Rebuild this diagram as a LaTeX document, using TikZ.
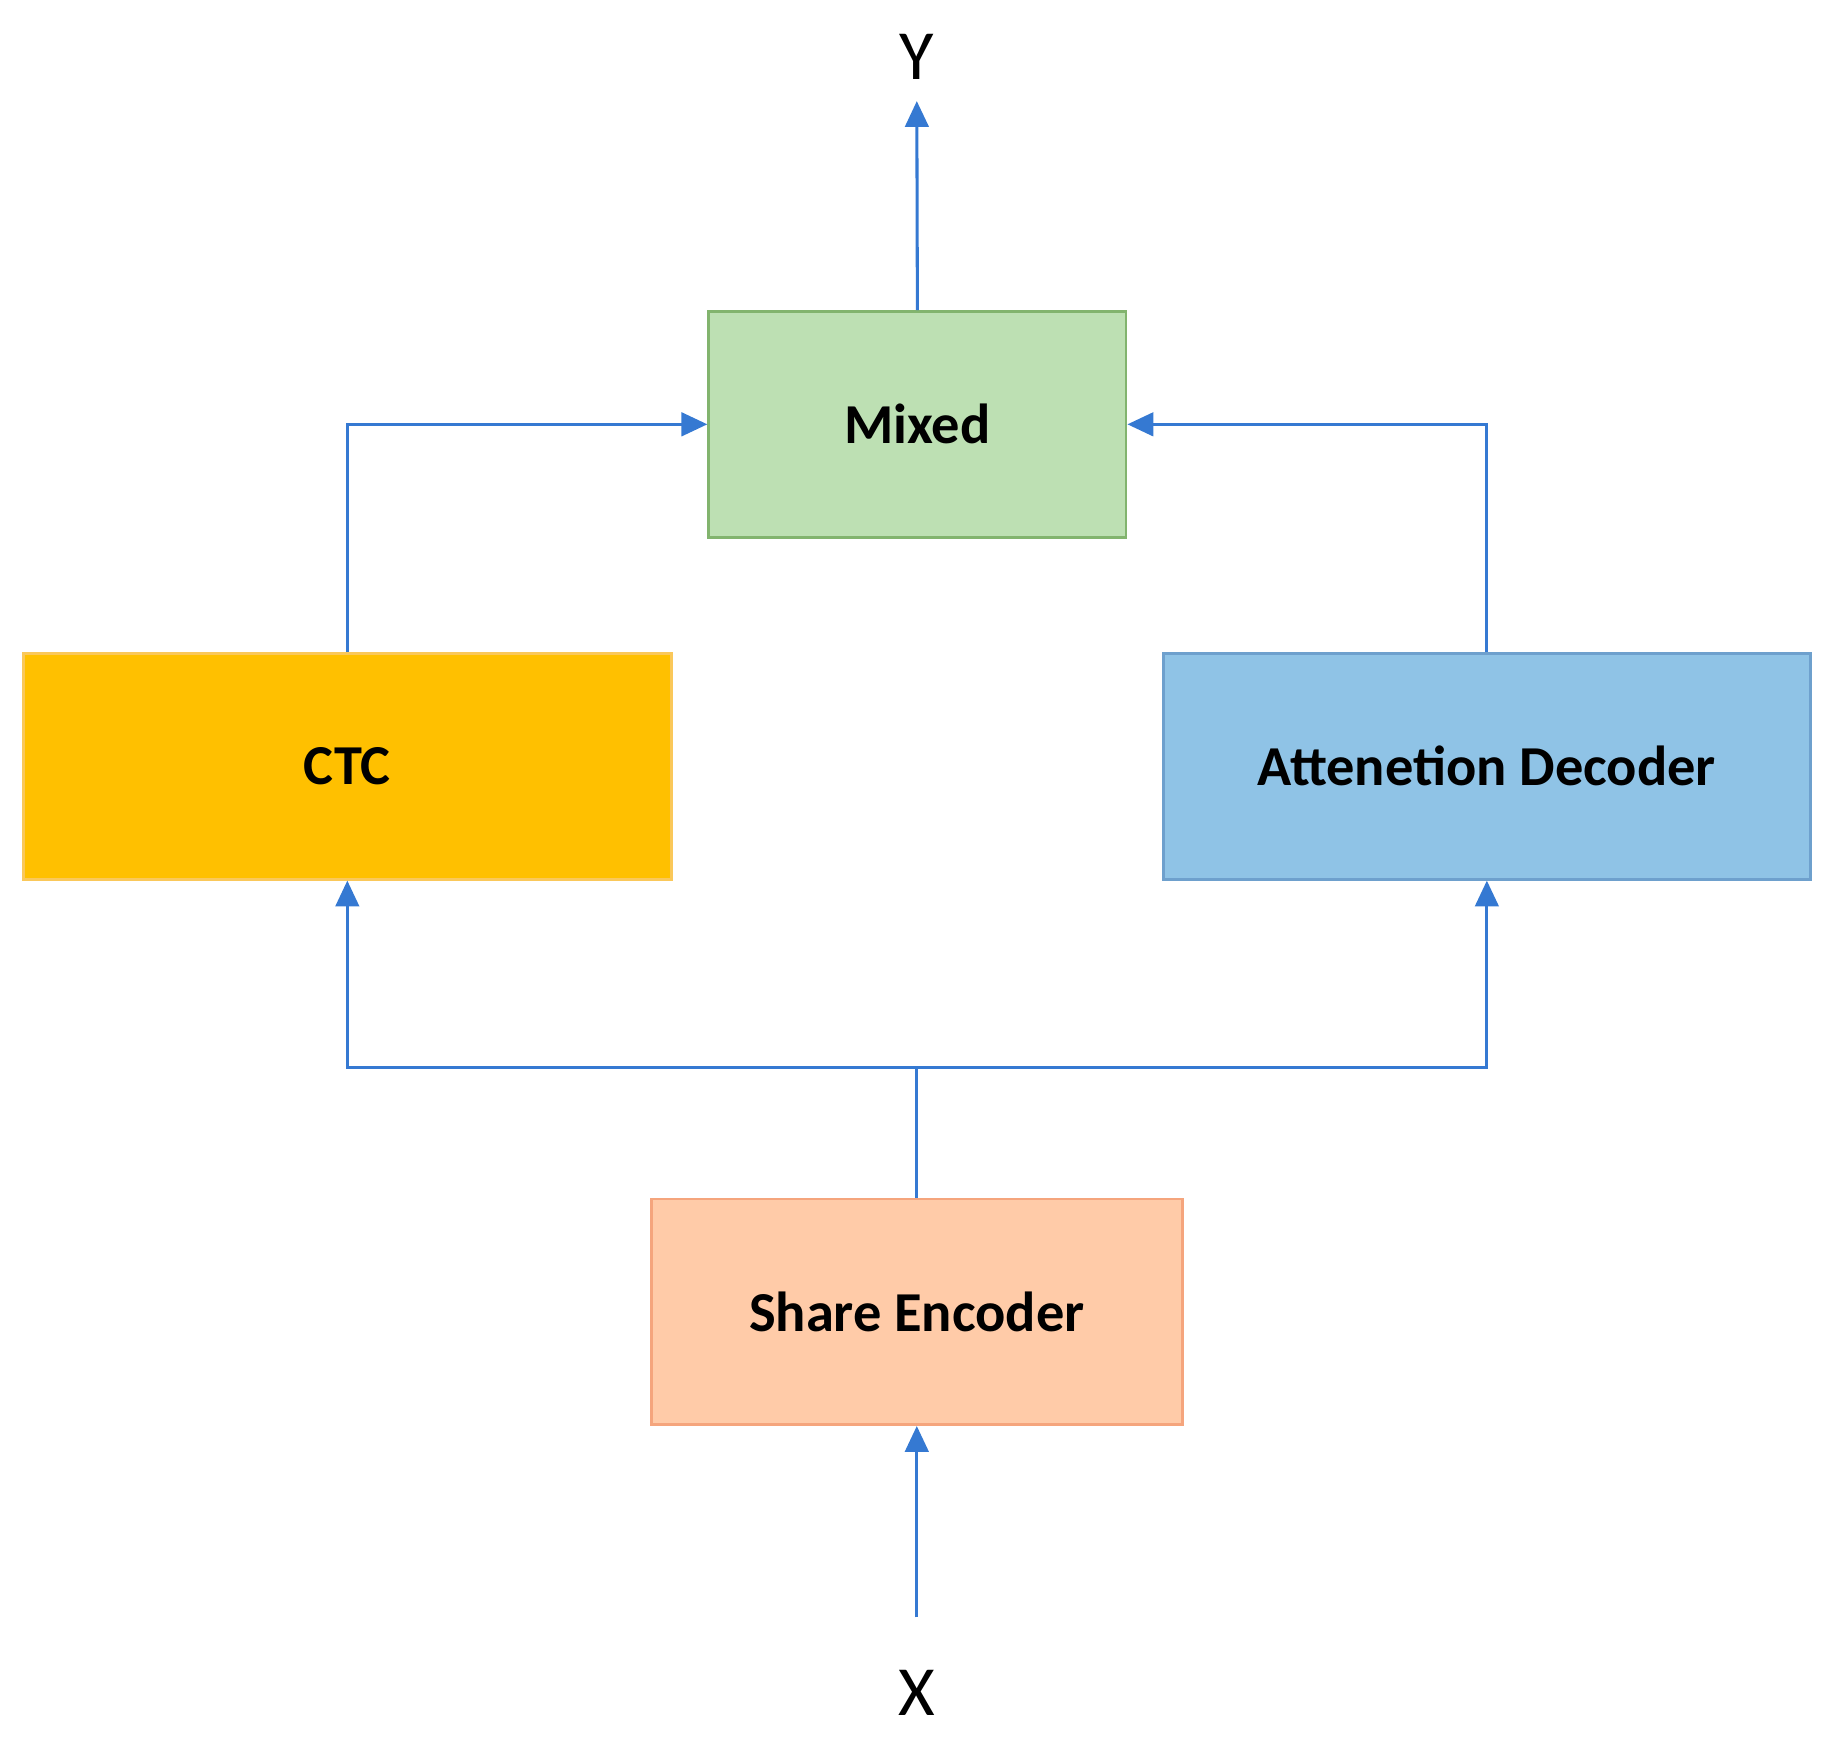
\documentclass[tikz,border=0pt]{standalone}
\usepackage{fontspec}
\setmainfont{Carlito}
\usetikzlibrary{arrows.meta}
\definecolor{arr}{HTML}{3579D2}
\begin{document}
\begin{tikzpicture}[x=0.5pt,y=-0.5pt,
  box/.style={draw, line width=1.2pt, inner sep=0pt, font=\bfseries\fontsize{24}{28}\selectfont, text=black},
  con/.style={draw=arr, line width=1.3pt, -{Triangle[length=11pt,width=10pt]}},
  lbl/.style={font=\fontsize{30}{34}\selectfont}]
\useasboundingbox (0,0) rectangle (1568,1484);
\node[box, fill={rgb,255:red,189;green,224;blue,179}, draw={rgb,255:red,130;green,180;blue,110}, minimum width=177.5pt, minimum height=96pt] (mix) at (780.5,361) {Mixed};
\node[box, fill={rgb,255:red,255;green,192;blue,0}, draw={rgb,255:red,250;green,200;blue,90}, minimum width=275.5pt, minimum height=96pt] (ctc) at (295.5,652) {CTC};
\node[box, fill={rgb,255:red,143;green,195;blue,230}, draw={rgb,255:red,110;green,160;blue,205}, minimum width=275pt, minimum height=96pt] (att) at (1265,652) {Attenetion Decoder};
\node[box, fill={rgb,255:red,255;green,203;blue,168}, draw={rgb,255:red,245;green,165;blue,125}, minimum width=226pt, minimum height=96pt] (enc) at (780,1116) {Share Encoder};
\node[lbl] (Y) at (780,48) {Y};
\node[lbl] (X) at (780,1440) {X};
\coordinate (xs) at (780,1376);
\coordinate (ys) at (780,86);
\coordinate (j) at (780,908);
\draw[con] (xs) -- (enc.south);
\draw[con] (mix.north) -- (ys);
\draw[draw=arr, line width=1.3pt] (enc.north) -- (j);
\draw[con] (j) -| (ctc.south);
\draw[con] (j) -| (att.south);
\draw[con] (ctc.north) |- (mix.west);
\draw[con] (att.north) |- (mix.east);
\end{tikzpicture}
\end{document}
